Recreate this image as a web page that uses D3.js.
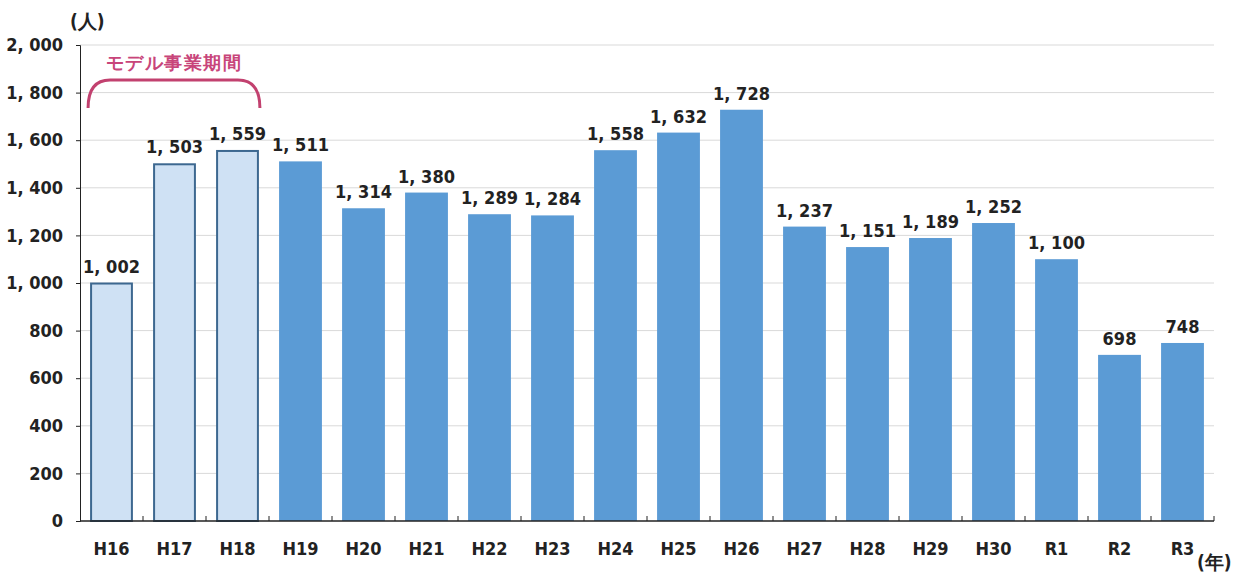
<!DOCTYPE html>
<html>
<head>
<meta charset="utf-8">
<script src="https://cdn.jsdelivr.net/npm/d3@7"></script>
<style>
  body { margin: 0; background: #fff; }
  text { font-family: "DejaVu Sans", sans-serif; font-stretch: condensed; }
</style>
</head>
<body>
<div id="chart"></div>
<script>
// data
const years = ["H16","H17","H18","H19","H20","H21","H22","H23","H24","H25","H26","H27","H28","H29","H30","R1","R2","R3"];
const counts = [1002,1503,1559,1511,1314,1380,1289,1284,1558,1632,1728,1237,1151,1189,1252,1100,698,748];
const modelYears = ["H16","H17","H18"];
const yTicks = [0,200,400,600,800,1000,1200,1400,1600,1800,2000];

const width = 1236, height = 572,
  margin = { top: 45, bottom: 51, left: 80, right: 22 };

const svg = d3.select("#chart").append("svg")
  .attr("width", width).attr("height", height);

const xScale = d3.scaleBand()
  .domain(years)
  .range([margin.left, width - margin.right])
  .paddingInner(0.32)
  .paddingOuter(0.16);

const yScale = d3.scaleLinear()
  .domain([0, 2000])
  .range([height - margin.bottom, margin.top]);

const fmt = v => d3.format(",")(v).replace(",", ", ");

// grid
svg.append("g")
  .selectAll("line")
  .data(yTicks.filter(d => d > 0))
  .join("line")
  .attr("x1", margin.left).attr("x2", width - margin.right)
  .attr("y1", d => yScale(d)).attr("y2", d => yScale(d))
  .attr("stroke", "#d9d9d9").attr("stroke-width", 1);

// y axis
const yAxis = d3.axisLeft(yScale).tickValues(yTicks).tickFormat(fmt).tickSize(4).tickPadding(13);
const gy = svg.append("g").attr("transform", `translate(${margin.left},0)`).call(yAxis);
gy.select(".domain").attr("stroke", "#222");
gy.selectAll(".tick line").attr("stroke", "#222");
gy.selectAll("text").attr("font-size", 18).attr("font-weight", "bold").attr("fill", "#222")
  .attr("font-family", null);

// bars
svg.append("g")
  .selectAll("rect")
  .data(years)
  .join("rect")
  .attr("x", d => modelYears.includes(d) ? xScale(d) + 1 : xScale(d))
  .attr("y", (d, i) => yScale(counts[i]) + (modelYears.includes(d) ? 1 : 0))
  .attr("width", d => modelYears.includes(d) ? xScale.bandwidth() - 2 : xScale.bandwidth())
  .attr("height", (d, i) => yScale(0) - yScale(counts[i]) - (modelYears.includes(d) ? 1 : 0))
  .attr("fill", d => modelYears.includes(d) ? "#cfe1f4" : "#5b9bd5")
  .attr("stroke", d => modelYears.includes(d) ? "#3d6890" : "none")
  .attr("stroke-width", 2);

// value labels
svg.append("g")
  .selectAll("text")
  .data(years)
  .join("text")
  .attr("x", d => xScale(d) + xScale.bandwidth() / 2)
  .attr("y", (d, i) => yScale(counts[i]) - 10)
  .attr("text-anchor", "middle")
  .attr("font-size", 18).attr("font-weight", "bold").attr("fill", "#222")
  .text((d, i) => fmt(counts[i]));

// x axis
const step = xScale.step();
const base = yScale(0);
const gap = (step - xScale.bandwidth()) / 2;
svg.append("line")
  .attr("x1", margin.left).attr("x2", width - margin.right)
  .attr("y1", base).attr("y2", base)
  .attr("stroke", "#222").attr("stroke-width", 1.5);
svg.append("g")
  .selectAll("line")
  .data(years)
  .join("line")
  .attr("x1", d => xScale(d) + xScale.bandwidth() + gap)
  .attr("x2", d => xScale(d) + xScale.bandwidth() + gap)
  .attr("y1", base).attr("y2", base - 5)
  .attr("stroke", "#222");
svg.append("g")
  .selectAll("text")
  .data(years)
  .join("text")
  .attr("x", d => xScale(d) + xScale.bandwidth() / 2)
  .attr("y", base + 34)
  .attr("text-anchor", "middle")
  .attr("font-size", 18).attr("font-weight", "bold").attr("fill", "#222")
  .text(d => d);

// unit labels
svg.append("text").attr("x", 70).attr("y", 28)
  .attr("font-family", "Noto Sans CJK JP")
  .attr("font-size", 19).attr("font-weight", "bold").attr("fill", "#222").text("(人)");
svg.append("text").attr("x", 1197).attr("y", 569)
  .attr("font-family", "Noto Sans CJK JP")
  .attr("font-size", 19).attr("font-weight", "bold").attr("fill", "#222").text("(年)");

// model period bracket
const bx0 = xScale("H16") - 2, bx1 = xScale("H18") + xScale.bandwidth() + 1;
const by = 80, bBottom = 108;
svg.append("path")
  .attr("d", `M${bx0},${bBottom} Q${bx0},${by} ${bx0 + 22},${by} L${bx1 - 22},${by} Q${bx1},${by} ${bx1},${bBottom}`)
  .attr("fill", "none").attr("stroke", "#c2416f").attr("stroke-width", 3);
svg.append("text")
  .attr("x", (bx0 + bx1) / 2).attr("y", 69)
  .attr("text-anchor", "middle")
  .attr("font-family", "Noto Sans CJK JP").attr("font-size", 18).attr("font-weight", "bold")
  .attr("letter-spacing", 1.5)
  .attr("fill", "#c8457a")
  .text("モデル事業期間");
</script>
</body>
</html>
